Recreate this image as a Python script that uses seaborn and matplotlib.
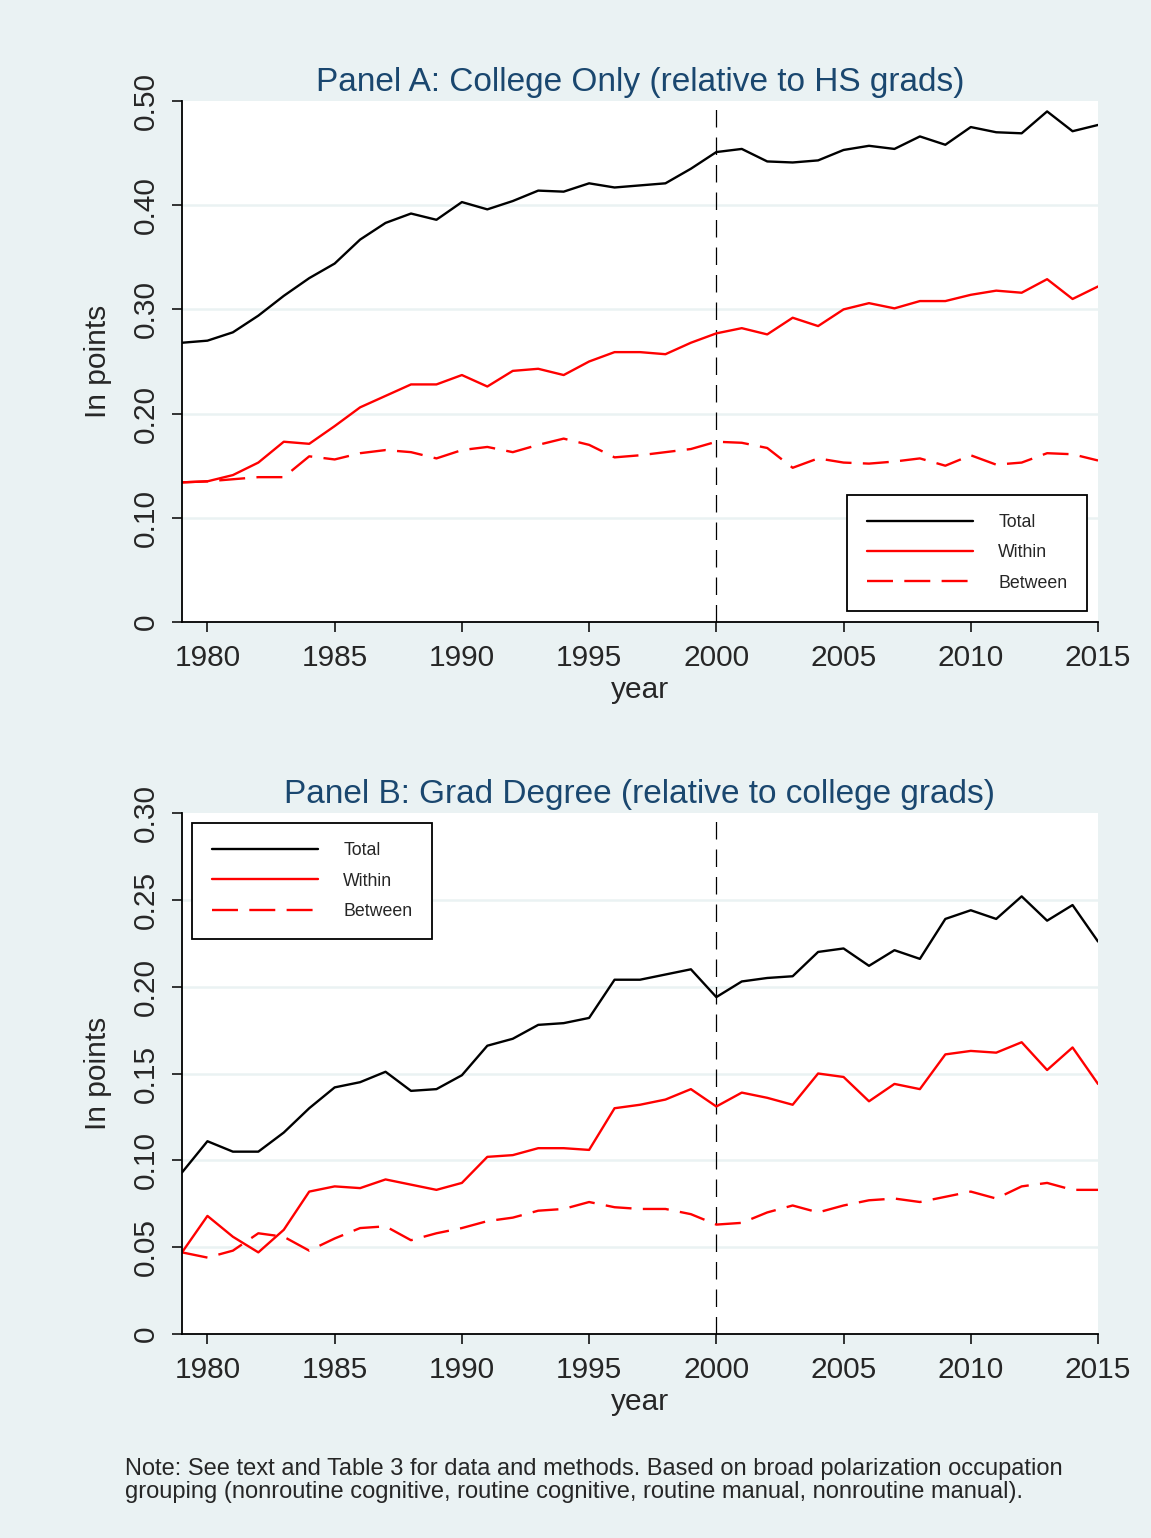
import numpy as np
import pandas as pd
import matplotlib
matplotlib.use("Agg")
import matplotlib.pyplot as plt
import seaborn as sns

years = list(range(1979, 2016))

# Panel A: College only (relative to HS grads)
total_a = [0.268, 0.270, 0.278, 0.294, 0.313, 0.330, 0.344, 0.367, 0.383, 0.392, 0.386, 0.403,
           0.396, 0.404, 0.414, 0.413, 0.421, 0.417, 0.419, 0.421, 0.435, 0.451, 0.454, 0.442,
           0.441, 0.443, 0.453, 0.457, 0.454, 0.466, 0.458, 0.475, 0.470, 0.469, 0.490, 0.471, 0.477]
within_a = [0.134, 0.135, 0.141, 0.153, 0.173, 0.171, 0.188, 0.206, 0.217, 0.228, 0.228, 0.237,
            0.226, 0.241, 0.243, 0.237, 0.250, 0.259, 0.259, 0.257, 0.268, 0.277, 0.282, 0.276,
            0.292, 0.284, 0.300, 0.306, 0.301, 0.308, 0.308, 0.314, 0.318, 0.316, 0.329, 0.310, 0.322]
between_a = [0.134, 0.135, 0.137, 0.139, 0.139, 0.159, 0.156, 0.162, 0.165, 0.163, 0.157, 0.165,
             0.168, 0.163, 0.170, 0.176, 0.170, 0.158, 0.160, 0.163, 0.166, 0.173, 0.172, 0.167,
             0.148, 0.157, 0.153, 0.152, 0.154, 0.157, 0.150, 0.160, 0.151, 0.153, 0.162, 0.161, 0.155]

# Panel B: Grad degree (relative to college grads)
total_b = [0.093, 0.111, 0.105, 0.105, 0.116, 0.130, 0.142, 0.145, 0.151, 0.140, 0.141, 0.149,
           0.166, 0.170, 0.178, 0.179, 0.182, 0.204, 0.204, 0.207, 0.210, 0.194, 0.203, 0.205,
           0.206, 0.220, 0.222, 0.212, 0.221, 0.216, 0.239, 0.244, 0.239, 0.252, 0.238, 0.247, 0.226]
within_b = [0.047, 0.068, 0.056, 0.047, 0.060, 0.082, 0.085, 0.084, 0.089, 0.086, 0.083, 0.087,
            0.102, 0.103, 0.107, 0.107, 0.106, 0.130, 0.132, 0.135, 0.141, 0.131, 0.139, 0.136,
            0.132, 0.150, 0.148, 0.134, 0.144, 0.141, 0.161, 0.163, 0.162, 0.168, 0.152, 0.165, 0.144]
between_b = [0.047, 0.044, 0.048, 0.058, 0.056, 0.048, 0.055, 0.061, 0.062, 0.054, 0.058, 0.061,
             0.065, 0.067, 0.071, 0.072, 0.076, 0.073, 0.072, 0.072, 0.069, 0.063, 0.064, 0.070,
             0.074, 0.070, 0.074, 0.077, 0.078, 0.076, 0.079, 0.082, 0.078, 0.085, 0.087, 0.083, 0.083]

series_labels = ["Total", "Within", "Between"]
xticks = [1980, 1985, 1990, 1995, 2000, 2005, 2010, 2015]
yticks_a = [0, 0.10, 0.20, 0.30, 0.40, 0.50]
yticklabels_a = ["0", "0.10", "0.20", "0.30", "0.40", "0.50"]
yticks_b = [0, 0.05, 0.10, 0.15, 0.20, 0.25, 0.30]
yticklabels_b = ["0", "0.05", "0.10", "0.15", "0.20", "0.25", "0.30"]
title_a = "Panel A: College Only (relative to HS grads)"
title_b = "Panel B: Grad Degree (relative to college grads)"
note = ("Note: See text and Table 3 for data and methods. Based on broad polarization occupation\n"
        "grouping (nonroutine cognitive, routine cognitive, routine manual, nonroutine manual).")

sns.set_theme(style="white")
plt.rcParams['font.family'] = ['Liberation Sans', 'DejaVu Sans']

BG = "#EAF2F3"
GRID = "#EAF2F3"
TITLE_C = "#1A476F"

fig = plt.figure(figsize=(11.51, 15.38), dpi=100)
fig.patch.set_facecolor(BG)

ax_a = fig.add_axes([182/1151, 1-622/1538, 916/1151, 521/1538])
ax_b = fig.add_axes([182/1151, 1-1334/1538, 916/1151, 521/1538])

dash_between = (0, (11, 4.8))


def draw(ax, tot, wit, bet, yt, ytl, ymax, title, leg_kw):
    ax.set_facecolor("white")
    for v in yt[1:-1]:
        ax.axhline(v, color=GRID, lw=1.8, zorder=0)
    df = pd.DataFrame({"year": years, "Total": tot, "Within": wit, "Between": bet})
    sns.lineplot(data=df, x="year", y="Total", ax=ax, color="black", lw=1.7, label=series_labels[0])
    sns.lineplot(data=df, x="year", y="Within", ax=ax, color="red", lw=1.7, label=series_labels[1])
    sns.lineplot(data=df, x="year", y="Between", ax=ax, color="red", lw=1.7,
                 linestyle=dash_between, label=series_labels[2])
    ax.axvline(2000, color="black", lw=0.9, linestyle=(0, (14, 8)), zorder=1)
    ax.set_xlim(1979, 2015)
    ax.set_ylim(0, ymax)
    ax.set_xticks(xticks)
    ax.set_xticklabels([str(x) for x in xticks], fontsize=21.5)
    ax.set_yticks(yt)
    ax.set_yticklabels(ytl, fontsize=21.5, rotation=90, va="center")
    ax.set_xlabel("year", fontsize=21.5, labelpad=3)
    ax.set_ylabel("In points", fontsize=21.5, labelpad=14)
    ax.set_title(title, fontsize=24, color=TITLE_C, pad=7)
    for s in ["top", "right"]:
        ax.spines[s].set_visible(False)
    for s in ["left", "bottom"]:
        ax.spines[s].set_color("black")
        ax.spines[s].set_linewidth(1.3)
    ax.tick_params(axis="x", direction="out", length=7, width=1.1, color="black",
                   bottom=True, pad=9)
    ax.tick_params(axis="y", direction="out", length=7, width=1.1, color="black",
                   left=True, pad=9)
    ax.grid(False)
    handles, labels = ax.get_legend_handles_labels()
    leg = ax.legend(handles, labels, fontsize=12.8, handlelength=6.0, handletextpad=1.4,
                    labelspacing=0.74, borderpad=1.1, borderaxespad=0, fancybox=False,
                    framealpha=1, edgecolor="black", facecolor="white", **leg_kw)
    leg.get_frame().set_linewidth(1.3)


draw(ax_a, total_a, within_a, between_a, yticks_a, yticklabels_a, 0.50, title_a,
     dict(loc="lower right", bbox_to_anchor=(0.988, 0.021)))
draw(ax_b, total_b, within_b, between_b, yticks_b, yticklabels_b, 0.30, title_b,
     dict(loc="upper left", bbox_to_anchor=(0.011, 0.981)))

fig.text(125/1151, 1-1458/1538, note, fontsize=17, va="top", ha="left", linespacing=1.08)

fig.savefig("out.png", dpi=100, facecolor=BG)
